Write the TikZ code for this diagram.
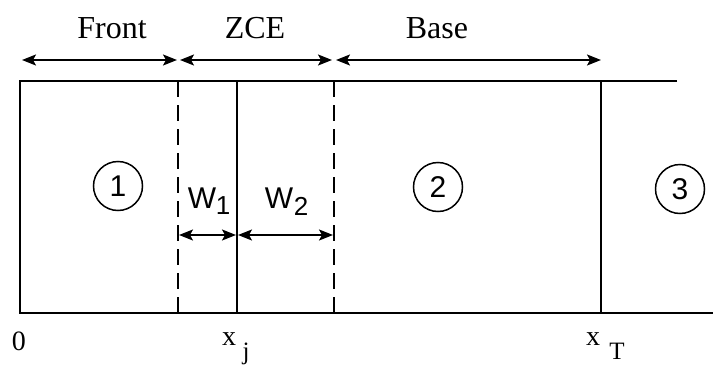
\documentclass[tikz,border=0pt]{standalone}
\usepackage{fontspec}
\setmainfont{Liberation Serif}
\newfontfamily\sansf{Liberation Sans}
\usetikzlibrary{arrows.meta}
\begin{document}
\begin{tikzpicture}[x=1pt,y=-1pt,
  frame/.style={line width=1.6pt},
  dashline/.style={line width=1.6pt, dash pattern=on 16pt off 8pt},
  dim/.style={line width=1.4pt, {Stealth[length=14pt,width=11pt,inset=3pt]}-{Stealth[length=14pt,width=11pt,inset=3pt]}},
  region/.style={circle, draw, line width=1.5pt, minimum size=49pt, inner sep=0pt, font=\sansf\fontsize{30}{30}\selectfont},
  toplab/.style={inner sep=0pt, font=\fontsize{32}{32}\selectfont},
  wlab/.style={inner sep=0pt, font=\sansf\fontsize{30}{30}\selectfont},
  wsub/.style={inner sep=0pt, font=\sansf\fontsize{26}{26}\selectfont},
  xlab/.style={inner sep=0pt, font=\fontsize{28}{28}\selectfont},
  xsub/.style={inner sep=0pt, font=\fontsize{25}{25}\selectfont}
]
\useasboundingbox (0,0) rectangle (713,367);
% frame coordinates
\coordinate (TL) at (20,81);
\coordinate (BL) at (20,313);
\coordinate (TR) at (677,81);
\coordinate (BR) at (713,313);
\coordinate (j1) at (237,81);
\coordinate (j2) at (237,313);
\coordinate (T1) at (601,81);
\coordinate (T2) at (601,313);
\coordinate (d1t) at (178,81);
\coordinate (d1b) at (178,313);
\coordinate (d2t) at (334,81);
\coordinate (d2b) at (334,313);
\draw[frame] (TR) -- (TL) -- (BL) -- (BR);
\draw[frame] (j1) -- (j2);
\draw[frame] (T1) -- (T2);
\draw[dashline] (d1t) -- (d1b);
\draw[dashline] (d2t) -- (d2b);
% top dimension arrows
\coordinate (a0) at (22,60);
\coordinate (a1) at (177,60);
\coordinate (a2) at (180,60);
\coordinate (a3) at (332,60);
\coordinate (a4) at (336,60);
\coordinate (a5) at (601,60);
\draw[dim] (a0) -- (a1);
\draw[dim] (a2) -- (a3);
\draw[dim] (a4) -- (a5);
\node[toplab] (front) at (112,28) {Front};
\node[toplab] (zce) at (255,28) {ZCE};
\node[toplab] (base) at (437,28) {Base};
% W arrows
\coordinate (w0) at (179,235);
\coordinate (w1) at (236,235);
\coordinate (w2) at (238,235);
\coordinate (w3) at (333,235);
\draw[dim] (w0) -- (w1);
\draw[dim] (w2) -- (w3);
\node[wlab] (W1) at (202,198) {W};
\node[wsub] (W1s) at (223,206) {1};
\node[wlab] (W2) at (279,198) {W};
\node[wsub] (W2s) at (301,206) {2};
% regions
\node[region] (r1) at (118,186) {1};
\node[region] (r2) at (438,187) {2};
\node[region] (r3) at (680,189) {3};
% bottom labels
\node[xlab] (zero) at (19,341) {0};
\node[xlab] (xj) at (229,339) {x};
\node[xsub] (xjs) at (246,354) {j};
\node[xlab] (xT) at (593,339) {x};
\node[xsub] (xTs) at (617,351) {T};
\end{tikzpicture}
\end{document}
